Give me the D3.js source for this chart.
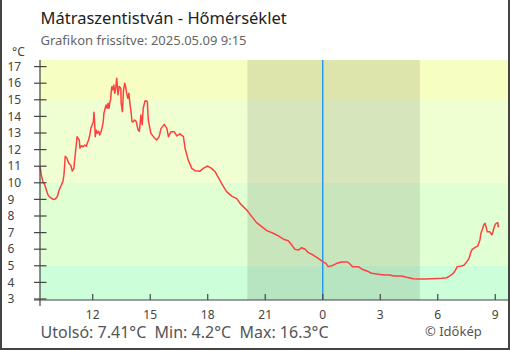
<!DOCTYPE html>
<html>
<head>
<meta charset="utf-8">
<script src="https://cdn.jsdelivr.net/npm/d3@7"></script>
<style>
  html, body { margin: 0; padding: 0; background: #fff; }
  svg { display: block; font-family: "Noto Sans", sans-serif; }
</style>
</head>
<body>
<svg id="chart" width="510" height="350"></svg>
<script>
// Station readings, 2025-05-08 09:15 → 2025-05-09 09:12 (clock times, day rolls over at midnight)
const times = [
  "09:15","09:17","09:19","09:24","09:30","09:35","09:40","09:48","09:56","10:03",
  "10:09","10:15","10:22","10:27","10:30","10:34","10:39","10:45","10:51","10:56",
  "11:01","11:04","11:08","11:11","11:14","11:18","11:20","11:24","11:30","11:35",
  "11:40","11:43","11:47","11:51","11:54","11:58","12:02","12:04","12:06","12:08",
  "12:11","12:14","12:19","12:22","12:25","12:29","12:33","12:35","12:39","12:42",
  "12:45","12:48","12:51","12:54","12:56","12:58","13:00","13:03","13:06","13:09",
  "13:12","13:15","13:17","13:19","13:23","13:28","13:29","13:33","13:36","13:40",
  "13:43","13:46","13:50","13:53","13:57","14:00","14:03","14:07","14:11","14:16",
  "14:22","14:26","14:31","14:35","14:38","14:44","14:51","14:54","15:02","15:10",
  "15:20","15:28","15:34","15:44","15:52","15:57","16:05","16:15","16:23","16:33",
  "16:44","16:49","16:59","17:10","17:20","17:36","17:46","18:00","18:12","18:23",
  "18:33","18:46","18:59","19:15","19:31","19:41","20:02","20:18","20:33","20:49",
  "21:05","21:25","21:41","21:57","22:12","22:23","22:33","22:44","22:54","23:05",
  "23:15","23:30","23:46","00:00","00:10","00:17","00:28","00:44","00:59","01:18",
  "01:25","01:33","01:51","02:02","02:18","02:33","02:54","03:15","03:31","03:41",
  "04:07","04:23","04:43","04:59","05:20","05:41","06:12","06:28","06:38","06:49",
  "06:56","07:01","07:15","07:23","07:31","07:38","07:44","07:48","07:57","08:05",
  "08:12","08:15","08:19","08:24","08:28","08:31","08:35","08:43","08:49","08:52",
  "08:57","09:01","09:08","09:09","09:12"
];
const temps = [
  10.95,10.77,10.47,10.07,9.87,9.57,9.27,9.1,9.0,9.02,
  9.16,9.57,9.87,10.1,10.47,11.6,11.5,11.17,11.07,10.71,
  10.87,11.47,12.17,12.78,12.68,12.58,12.08,12.23,12.17,12.28,
  12.2,12.38,12.58,12.88,13.28,13.48,13.68,14.25,13.68,12.78,
  13.18,12.98,13.1,12.88,13.0,13.28,13.68,14.18,14.49,14.69,
  14.49,14.79,14.49,14.89,15.0,15.49,15.79,15.6,15.89,15.39,
  15.69,16.3,15.9,15.3,15.8,15.7,14.8,14.28,15.49,16.0,
  15.8,15.4,15.09,15.4,14.69,14.28,13.68,13.68,13.78,13.7,
  13.18,13.1,14.08,13.5,14.49,14.94,14.9,13.78,12.98,12.78,
  12.58,12.78,13.28,13.52,13.28,12.78,13.08,13.08,12.82,12.95,
  12.78,12.08,11.37,10.87,10.73,10.7,10.87,11.01,10.87,10.67,
  10.33,9.87,9.47,9.2,9.05,8.76,8.36,7.96,7.6,7.36,
  7.12,6.96,6.8,6.6,6.51,6.25,5.99,5.95,6.09,6.0,
  5.79,5.65,5.45,5.25,5.15,4.95,5.0,5.15,5.23,5.23,
  5.11,4.95,4.95,4.81,4.69,4.55,4.49,4.45,4.45,4.39,
  4.39,4.31,4.22,4.2,4.2,4.22,4.25,4.28,4.39,4.55,
  4.75,4.95,4.99,5.05,5.25,5.45,5.85,5.99,6.11,6.19,
  6.55,6.96,7.16,7.46,7.56,7.36,7.05,7.05,6.86,7.0,
  7.36,7.52,7.6,7.36,7.41
];

// Temperature bands (°C) and their background colours
const bandEdges = [-50, 5, 10, 15, 50];
const bandColors = ["#ccffd9", "#e0ffd2", "#f0ffd2", "#f6ffc1"];

// Axis ticks
const yTicks = [3, 4, 5, 6, 7, 8, 9, 10, 11, 12, 13, 14, 15, 16, 17];
const xTickHours = [12, 15, 18, 21, 0, 3, 6, 9];

// Window, night and "now"
const windowStart = "2025-05-08 09:15";
const windowEnd = "2025-05-09 09:43";
const sunset = "2025-05-08 20:04";
const sunrise = "2025-05-09 05:04";
const midnight = "2025-05-09 00:00";

const stats = { last: "7.41", min: "4.2", max: "16.3" };

const parseFull = d3.timeParse("%Y-%m-%d %H:%M");

// Turn clock times into dates, advancing a day when the clock wraps
const series = [];
{
  let day = 8, prev = -1;
  times.forEach((t, i) => {
    const [h, m] = t.split(":").map(Number);
    const mins = h * 60 + m;
    if (mins < prev) day += 1;
    prev = mins;
    series.push({ date: new Date(2025, 4, day, h, m), value: temps[i] });
  });
}

const svg = d3.select("#chart");
const W = 510, H = 350;
const plot = { left: 40, right: 509, top: 60, bottom: 300 };

const x = d3.scaleTime()
  .domain([parseFull(windowStart), parseFull(windowEnd)])
  .range([plot.left, plot.right]);
const y = d3.scaleLinear().domain([3, 17]).range([299, 66.6]);

const clamp = v => Math.max(plot.top, Math.min(plot.bottom, v));

// Background bands
const gBands = svg.append("g");
bandColors.forEach((c, i) => {
  const y0 = clamp(y(bandEdges[i])), y1 = clamp(y(bandEdges[i + 1]));
  gBands.append("rect")
    .attr("x", plot.left).attr("y", y1)
    .attr("width", plot.right - plot.left).attr("height", y0 - y1)
    .attr("fill", c);
});

// Night shading
svg.append("rect")
  .attr("x", x(parseFull(sunset))).attr("y", plot.top)
  .attr("width", x(parseFull(sunrise)) - x(parseFull(sunset)))
  .attr("height", plot.bottom - plot.top)
  .attr("fill", "#000").attr("fill-opacity", 0.1);

// Midnight marker
svg.append("line")
  .attr("x1", x(parseFull(midnight))).attr("x2", x(parseFull(midnight)))
  .attr("y1", plot.top).attr("y2", plot.bottom)
  .attr("stroke", "#2196f3").attr("stroke-width", 1.4);

// Temperature line
svg.append("path")
  .datum(series)
  .attr("fill", "none")
  .attr("stroke", "#ff4040")
  .attr("stroke-width", 1.5)
  .attr("stroke-linejoin", "round")
  .attr("d", d3.line().x(d => x(d.date)).y(d => y(d.value)));

// Y axis: cross ticks, labels left-aligned at the edge
const axisColor = "#444";
svg.append("line")
  .attr("x1", plot.left).attr("x2", plot.left)
  .attr("y1", plot.top).attr("y2", 306)
  .attr("stroke", axisColor).attr("stroke-width", 1.2);
const yAxis = svg.append("g");
yTicks.forEach(v => {
  yAxis.append("line")
    .attr("x1", 34).attr("x2", 46.5)
    .attr("y1", y(v)).attr("y2", y(v))
    .attr("stroke", axisColor).attr("stroke-width", 1.2);
  yAxis.append("text")
    .attr("x", 7.5).attr("y", y(v) + 4.2)
    .attr("font-size", 12).attr("fill", "#444")
    .text(v);
});
svg.append("text")
  .attr("x", 12).attr("y", 55.5)
  .attr("font-size", 12).attr("fill", "#444")
  .text("°C");

// X axis
svg.append("line")
  .attr("x1", 34).attr("x2", plot.right)
  .attr("y1", plot.bottom).attr("y2", plot.bottom)
  .attr("stroke", axisColor).attr("stroke-width", 1.2);
const xTicks = x.ticks(d3.timeHour.every(3));
const xAxis = svg.append("g");
xTicks.forEach(d => {
  xAxis.append("line")
    .attr("x1", x(d)).attr("x2", x(d))
    .attr("y1", 294).attr("y2", plot.bottom)
    .attr("stroke", axisColor).attr("stroke-width", 1.2);
  xAxis.append("text")
    .attr("x", x(d)).attr("y", 319)
    .attr("text-anchor", "middle")
    .attr("font-size", 12).attr("fill", "#444")
    .text(d3.timeFormat("%-H")(d));
});

// Titles
svg.append("text")
  .attr("x", 40.5).attr("y", 24.3)
  .attr("font-size", 16.5).attr("fill", "#222")
  .text("Mátraszentistván - Hőmérséklet");
svg.append("text")
  .attr("x", 40.5).attr("y", 45)
  .attr("font-size", 13).attr("fill", "#666")
  .text("Grafikon frissítve: 2025.05.09 9:15");

// Summary line and credit
svg.append("text")
  .attr("x", 40.5).attr("y", 338.3)
  .attr("font-size", 16).attr("fill", "#555")
  .style("white-space", "pre")
  .text(`Utolsó: ${stats.last}°C  Min: ${stats.min}°C  Max: ${stats.max}°C`);
svg.append("text")
  .attr("x", 425).attr("y", 335.7)
  .attr("font-size", 13).attr("fill", "#555")
  .text("© Időkép");

// Frame
svg.append("path")
  .attr("d", `M1,0 V${H - 1} H${W - 1} V0`)
  .attr("fill", "none").attr("stroke", "#444").attr("stroke-width", 2);
</script>
</body>
</html>
